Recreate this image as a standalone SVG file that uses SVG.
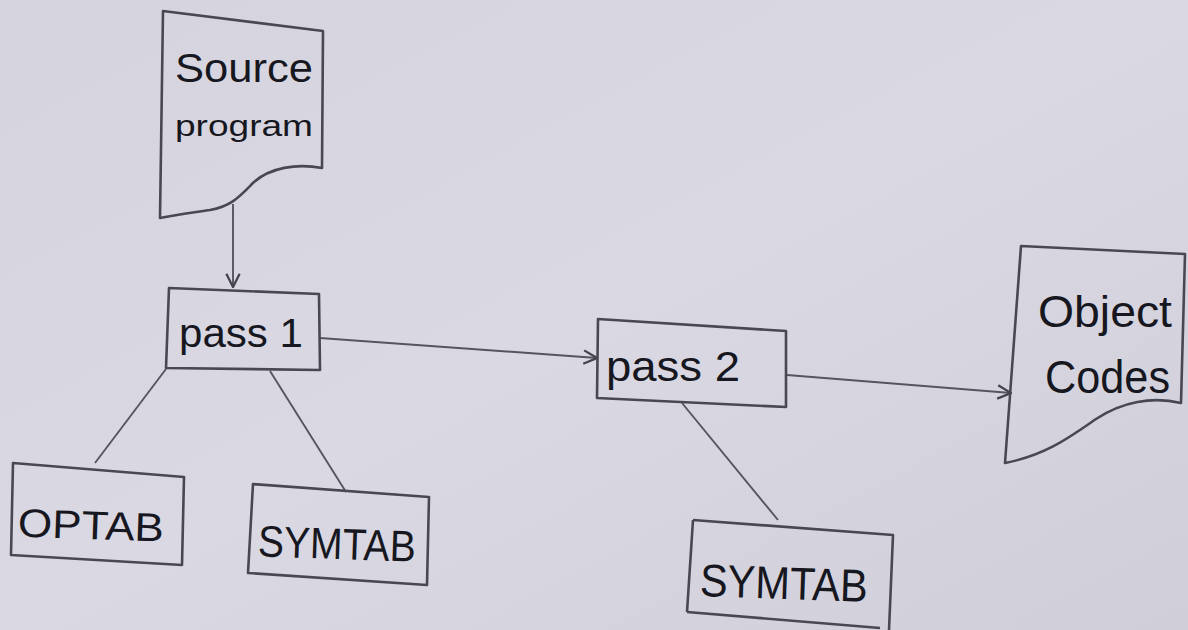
<svg xmlns="http://www.w3.org/2000/svg" width="1188" height="630" viewBox="0 0 1188 630">
  <defs>
    <linearGradient id="paper" x1="0" y1="0" x2="1" y2="1">
      <stop offset="0" stop-color="#d5d4de"/>
      <stop offset="0.5" stop-color="#dad9e3"/>
      <stop offset="1" stop-color="#d0cfd9"/>
    </linearGradient>
    <marker id="chev" viewBox="0 0 12 12" refX="11" refY="6" markerWidth="16" markerHeight="16" markerUnits="userSpaceOnUse" orient="auto">
      <path d="M1,1 L11,6 L1,11" fill="none" stroke="#44444f" stroke-width="1.7"/>
    </marker>
  </defs>
  <style>
    .shape { fill: none; stroke: #484854; stroke-width: 2.6; stroke-linejoin: round; }
    .wire { fill: none; stroke: #555561; stroke-width: 1.9; }
    .ink { fill: #17171f; font-family: "Liberation Sans", "DejaVu Sans", sans-serif; }
  </style>

  <rect x="0" y="0" width="1188" height="630" fill="url(#paper)"/>

  <!-- connectors -->
  <g id="connectors">
    <path class="wire" d="M233,204 L233,287" marker-end="url(#chev)"/>
    <path class="wire" d="M320,338 L597,358" marker-end="url(#chev)"/>
    <path class="wire" d="M787,375 L1011,393" marker-end="url(#chev)"/>
    <path class="wire" d="M166,369 L95,463"/>
    <path class="wire" d="M270,371 L346,492"/>
    <path class="wire" d="M682,403 L778,520"/>
  </g>

  <!-- source program document -->
  <g id="source-program">
    <path class="shape" d="M163,11 L323,31 L322,168 C296,163 270,168 254,182 C240,196 232,206 210,210 C190,213 175,215 160,218 Z"/>
    <text class="ink" x="175" y="82" font-size="40" textLength="138" lengthAdjust="spacingAndGlyphs">Source</text>
    <text class="ink" x="175" y="136" font-size="30" textLength="138" lengthAdjust="spacingAndGlyphs">program</text>
  </g>

  <!-- pass 1 -->
  <g id="pass1">
    <path class="shape" d="M169,288 L319,294 L320,370 L166,368 Z"/>
    <text class="ink" x="179" y="347" font-size="40" textLength="124" lengthAdjust="spacingAndGlyphs">pass 1</text>
  </g>

  <!-- pass 2 -->
  <g id="pass2">
    <path class="shape" d="M598,319 L786,331 L786,407 L597,398 Z"/>
    <text class="ink" x="606" y="381" font-size="42" textLength="134" lengthAdjust="spacingAndGlyphs">pass 2</text>
  </g>

  <!-- object codes document -->
  <g id="object-codes">
    <path class="shape" d="M1021,246 L1185,254 L1181,403 C1152,396 1122,402 1096,419 C1070,437 1046,455 1005,463 Z"/>
    <text class="ink" x="1038" y="327" font-size="44" textLength="134" lengthAdjust="spacingAndGlyphs">Object</text>
    <text class="ink" x="1045" y="393" font-size="46" textLength="125" lengthAdjust="spacingAndGlyphs">Codes</text>
  </g>

  <!-- OPTAB -->
  <g id="optab">
    <path class="shape" d="M13,463 L184,477 L182,565 L11,555 Z"/>
    <text class="ink" x="18" y="539" font-size="40" textLength="146" lengthAdjust="spacingAndGlyphs" transform="rotate(2 90 525)">OPTAB</text>
  </g>

  <!-- SYMTAB under pass 1 -->
  <g id="symtab1">
    <path class="shape" d="M253,484 L429,497 L427,585 L248,573 Z"/>
    <text class="ink" x="258" y="559" font-size="44" textLength="158" lengthAdjust="spacingAndGlyphs" transform="rotate(2 337 540)">SYMTAB</text>
  </g>

  <!-- SYMTAB under pass 2 -->
  <g id="symtab2">
    <path class="shape" d="M693,520 L893,535 L889,630 M687,612 L693,520"/>
    <path class="shape" d="M687,612 L880,628"/>
    <text class="ink" x="700" y="599" font-size="46" textLength="168" lengthAdjust="spacingAndGlyphs" transform="rotate(2 784 580)">SYMTAB</text>
  </g>
</svg>
